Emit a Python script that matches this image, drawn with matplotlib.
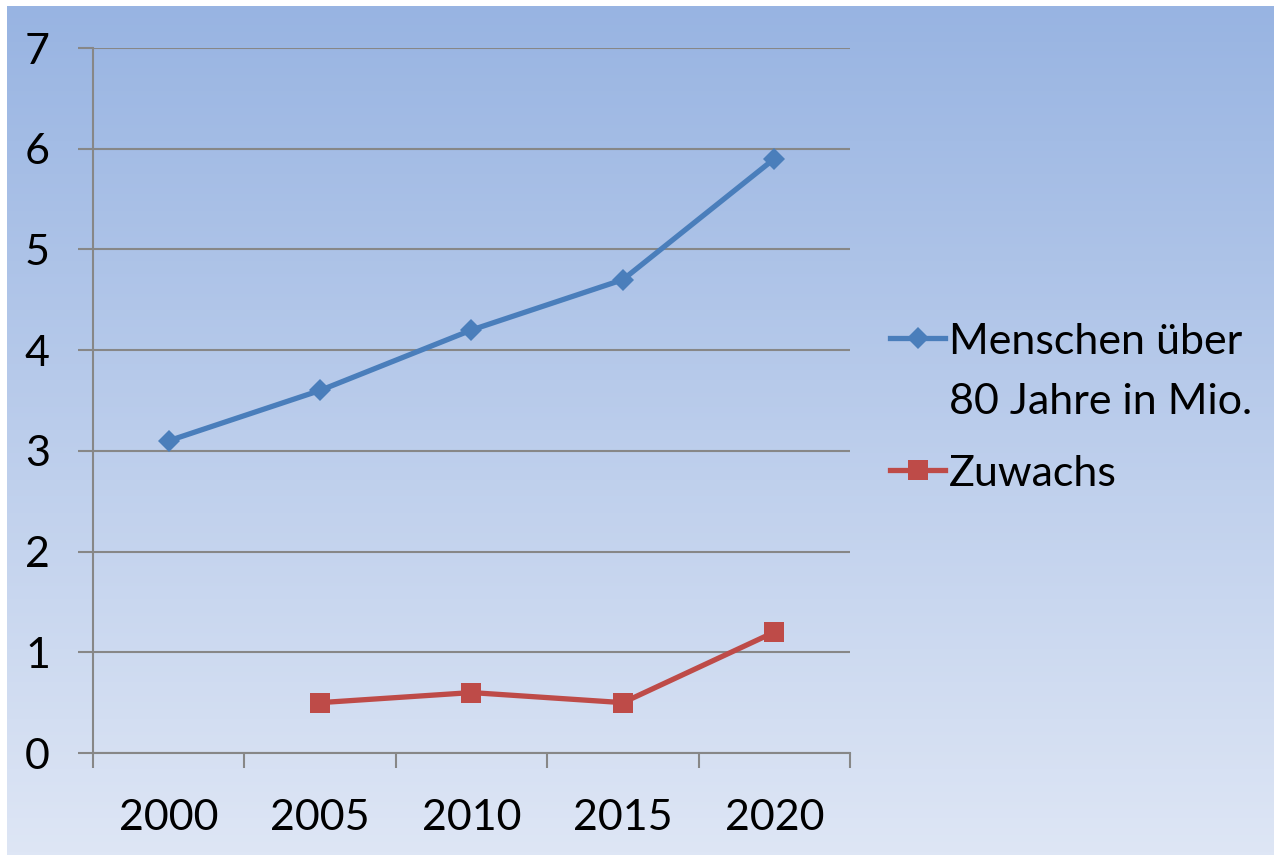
import numpy as np
import matplotlib
matplotlib.use("Agg")
import matplotlib.pyplot as plt
from matplotlib.lines import Line2D

years = ["2000", "2005", "2010", "2015", "2020"]
menschen = [3.1, 3.6, 4.2, 4.7, 5.9]
zuwachs = [np.nan, 0.5, 0.6, 0.5, 1.2]
series_labels = ["Menschen über\n80 Jahre in Mio.", "Zuwachs"]
yticks = [0, 1, 2, 3, 4, 5, 6, 7]

W, H = 1274, 855
FONT = "Lato"
FS = 31
BLUE = "#4A7EBB"
RED = "#BE4B48"
GRID = "#878787"

fig = plt.figure(figsize=(W / 100, H / 100), dpi=100)
fig.patch.set_facecolor("white")

# gradient background
bg = fig.add_axes([7 / W, 0, 1 - 7 / W, (H - 6) / H], zorder=-10)
top = np.array([152, 180, 226]) / 255
bot = np.array([222, 230, 245]) / 255
t = np.linspace(0, 1, 256)[:, None]
grad = top[None, :] * (1 - t) + bot[None, :] * t
bg.imshow(grad[:, None, :], aspect="auto", extent=[0, 1, 0, 1])
bg.set_axis_off()

ax = fig.add_axes([93 / W, (H - 753) / H, (850 - 93) / W, (753 - 48) / H])
ax.patch.set_alpha(0)
x = np.arange(len(years))
ax.plot(x, menschen, color=BLUE, lw=3.8, marker="D", markersize=11,
        markeredgewidth=0, zorder=3, solid_joinstyle="round")
ax.plot(x, zuwachs, color=RED, lw=3.8, marker="s", markersize=14.5,
        markeredgewidth=0, zorder=3, solid_joinstyle="round")

ax.set_xlim(-0.5, len(years) - 0.5)
ax.set_ylim(0, 7)
ax.set_yticks(yticks)
ax.set_yticklabels([str(v) for v in yticks], fontsize=FS, fontfamily=FONT)
ax.set_xticks(np.arange(len(years) + 1) - 0.5)
ax.set_xticklabels([])
ax.set_xticks(x, minor=True)
ax.set_xticklabels(years, minor=True, fontsize=FS, fontfamily=FONT)
ax.tick_params(axis="x", which="minor", length=0, pad=33)
ax.tick_params(axis="x", which="major", length=11, width=1.5, color=GRID)
ax.tick_params(axis="y", length=11, width=1.5, color=GRID, pad=20)
ax.yaxis.grid(True, color=GRID, lw=1.5, zorder=1)
ax.set_axisbelow(True)
for s in ["top", "right"]:
    ax.spines[s].set_visible(False)
for s in ["left", "bottom"]:
    ax.spines[s].set_color(GRID)
    ax.spines[s].set_linewidth(1.5)

# legend (Excel style, handle aligned to first text line)
def fx(px):
    return px / W

def fy(py):
    return 1 - py / H

entries = [(BLUE, "D", 11, 338, series_labels[0]), (RED, "s", 14.5, 470, series_labels[1])]
for color, mk, ms, yc, lab in entries:
    fig.add_artist(Line2D([fx(890), fx(945)], [fy(yc), fy(yc)], color=color, lw=3.8,
                          transform=fig.transFigure))
    fig.add_artist(Line2D([fx(917.5)], [fy(yc)], color=color, marker=mk, markersize=ms,
                          markeredgewidth=0, transform=fig.transFigure))
    lines = lab.split("\n")
    for i, ln in enumerate(lines):
        fig.text(fx(949), fy(yc + i * 60), ln, fontsize=FS, fontfamily=FONT,
                 ha="left", va="center_baseline")

fig.savefig("out.png", dpi=100)
